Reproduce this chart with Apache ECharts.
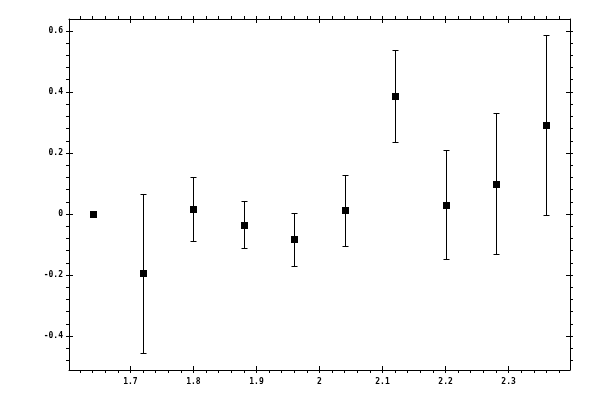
<!DOCTYPE html>
<html>
<head>
<meta charset="utf-8">
<script src="https://cdn.jsdelivr.net/npm/echarts@6/dist/echarts.min.js"></script>
<style>html,body{margin:0;padding:0;background:#fff}#c{width:600px;height:400px}</style>
</head>
<body>
<div id="c"></div>
<script>
var xValues = [1.64, 1.72, 1.80, 1.88, 1.96, 2.04, 2.12, 2.20, 2.28, 2.36];
var yValues = [0.000, -0.193, 0.016, -0.036, -0.082, 0.013, 0.387, 0.030, 0.098, 0.292];
var yLower  = [null, -0.456, -0.089, -0.111, -0.170, -0.104, 0.236, -0.148, -0.130, -0.002];
var yUpper  = [null, 0.066, 0.121, 0.043, 0.003, 0.128, 0.536, 0.210, 0.331, 0.588];
var xTicks = [1.7, 1.8, 1.9, 2.0, 2.1, 2.2, 2.3];
var yTicks = [-0.4, -0.2, 0, 0.2, 0.4, 0.6];
var xMin = 1.6025, xMax = 2.3975;
var yMin = -0.511, yMax = 0.639;

function range(a, b, step) {
  var out = [];
  var n = Math.round((b - a) / step);
  for (var i = 0; i <= n; i++) out.push(+(a + i * step).toFixed(4));
  return out;
}
var xMinor = range(1.62, 2.38, 0.02);
var yMinor = range(-0.48, 0.6, 0.04);

var font = { fontFamily: 'DejaVu Sans Mono', fontSize: 8, fontWeight: 'bold', color: '#000' };

function axisSet(kind, pos, min, max, major, minor, showLabels) {
  var base = { type: 'value', min: min, max: max, position: pos, splitLine: { show: false }, scale: true };
  var a = Object.assign({}, base, {
    axisLine: { show: true, onZero: false, lineStyle: { color: '#000', width: 1 } },
    axisTick: { show: true, inside: false, length: 3, customValues: minor, lineStyle: { color: '#000', width: 1 } },
    axisLabel: showLabels ? Object.assign({ show: true, customValues: major, margin: kind === 'x' ? 8 : 6 }, font) : { show: false }
  });
  var b = Object.assign({}, base, {
    axisLine: { show: false, onZero: false },
    axisTick: { show: true, inside: true, length: 4, customValues: major, lineStyle: { color: '#000', width: 1 } },
    axisLabel: { show: false }
  });
  var c = Object.assign({}, base, {
    axisLine: { show: false, onZero: false },
    axisTick: { show: true, inside: false, length: 3, customValues: major, lineStyle: { color: '#000', width: 1 } },
    axisLabel: { show: false }
  });
  return [a, b, c];
}

var xAxes = axisSet('x', 'bottom', xMin, xMax, xTicks, xMinor, true)
  .concat(axisSet('x', 'top', xMin, xMax, xTicks, xMinor, false));
var yAxes = axisSet('y', 'left', yMin, yMax, yTicks, yMinor, true)
  .concat(axisSet('y', 'right', yMin, yMax, yTicks, yMinor, false));

var errData = [];
var ptData = [];
for (var i = 0; i < xValues.length; i++) {
  ptData.push([xValues[i], yValues[i]]);
  if (yLower[i] !== null) errData.push([xValues[i], yLower[i], yUpper[i]]);
}

var chart = echarts.init(document.getElementById('c'), null, { renderer: 'canvas' });
chart.setOption({
  animation: false,
  backgroundColor: '#fff',
  grid: { left: 69, right: 30, top: 19, bottom: 30, containLabel: false },
  xAxis: xAxes,
  yAxis: yAxes,
  series: [
    {
      type: 'custom',
      xAxisIndex: 0, yAxisIndex: 0,
      data: errData,
      encode: { x: 0, y: [1, 2] },
      renderItem: function (params, api) {
        var lo = api.coord([api.value(0), api.value(1)]);
        var hi = api.coord([api.value(0), api.value(2)]);
        var x = Math.round(lo[0]) + 0.5;
        var y1 = Math.round(lo[1]) + 0.5, y2 = Math.round(hi[1]) + 0.5;
        var st = { stroke: '#000', lineWidth: 1 };
        return {
          type: 'group',
          children: [
            { type: 'line', shape: { x1: x, y1: y1, x2: x, y2: y2 }, style: st },
            { type: 'line', shape: { x1: x - 3, y1: y1, x2: x + 3, y2: y1 }, style: st },
            { type: 'line', shape: { x1: x - 3, y1: y2, x2: x + 3, y2: y2 }, style: st }
          ]
        };
      },
      z: 2
    },
    {
      type: 'custom',
      xAxisIndex: 0, yAxisIndex: 0,
      data: ptData,
      encode: { x: 0, y: 1 },
      renderItem: function (params, api) {
        var p = api.coord([api.value(0), api.value(1)]);
        var cx = Math.round(p[0]), cy = Math.round(p[1]);
        return {
          type: 'rect',
          shape: { x: cx - 3, y: cy - 3, width: 7, height: 7 },
          style: { fill: '#000' }
        };
      },
      z: 3
    }
  ]
});
</script>
</body>
</html>
